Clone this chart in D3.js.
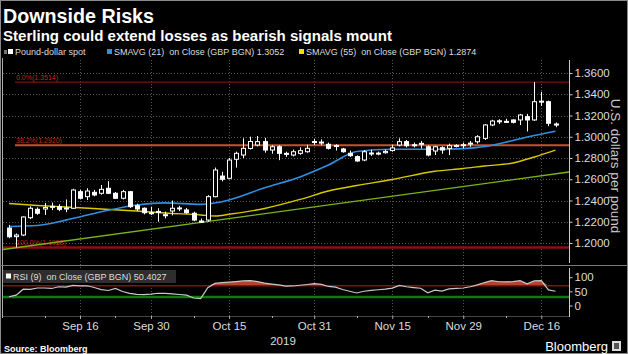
<!DOCTYPE html>
<html>
<head>
<meta charset="utf-8">
<script src="https://cdn.jsdelivr.net/npm/d3@7"></script>
<style>
  body { margin: 0; background: #000; }
  svg { display: block; }
  text { font-family: "Liberation Sans", Arial, sans-serif; }
</style>
</head>
<body>
<div id="chart"></div>
<script>
// Daily GBP/USD candles: date, open, high, low, close
var candles = [
    ["2019-09-02", 1.2141, 1.2170, 1.2045, 1.2059],
    ["2019-09-03", 1.2060, 1.2090, 1.1959, 1.2075],
    ["2019-09-04", 1.2075, 1.2250, 1.2065, 1.2245],
    ["2019-09-05", 1.2238, 1.2345, 1.2225, 1.2327],
    ["2019-09-06", 1.2317, 1.2335, 1.2265, 1.2280],
    ["2019-09-09", 1.2320, 1.2376, 1.2264, 1.2335],
    ["2019-09-10", 1.2340, 1.2380, 1.2310, 1.2345],
    ["2019-09-11", 1.2342, 1.2365, 1.2300, 1.2317],
    ["2019-09-12", 1.2320, 1.2410, 1.2290, 1.2330],
    ["2019-09-13", 1.2327, 1.2510, 1.2320, 1.2499],
    ["2019-09-16", 1.2483, 1.2500, 1.2410, 1.2421],
    ["2019-09-17", 1.2436, 1.2515, 1.2405, 1.2489],
    ["2019-09-18", 1.2477, 1.2500, 1.2440, 1.2452],
    ["2019-09-19", 1.2468, 1.2546, 1.2455, 1.2505],
    ["2019-09-20", 1.2515, 1.2582, 1.2460, 1.2468],
    ["2019-09-23", 1.2468, 1.2480, 1.2415, 1.2421],
    ["2019-09-24", 1.2421, 1.2500, 1.2410, 1.2483],
    ["2019-09-25", 1.2483, 1.2490, 1.2330, 1.2342],
    ["2019-09-26", 1.2351, 1.2370, 1.2300, 1.2320],
    ["2019-09-27", 1.2327, 1.2335, 1.2270, 1.2285],
    ["2019-09-30", 1.2285, 1.2342, 1.2264, 1.2276],
    ["2019-10-01", 1.2293, 1.2327, 1.2200, 1.2297],
    ["2019-10-02", 1.2266, 1.2295, 1.2232, 1.2262],
    ["2019-10-03", 1.2301, 1.2400, 1.2260, 1.2327],
    ["2019-10-04", 1.2325, 1.2350, 1.2300, 1.2330],
    ["2019-10-07", 1.2311, 1.2330, 1.2275, 1.2285],
    ["2019-10-08", 1.2280, 1.2295, 1.2205, 1.2216],
    ["2019-10-09", 1.2207, 1.2230, 1.2195, 1.2195],
    ["2019-10-10", 1.2216, 1.2450, 1.2200, 1.2436],
    ["2019-10-11", 1.2436, 1.2710, 1.2430, 1.2687],
    ["2019-10-14", 1.2630, 1.2670, 1.2580, 1.2600],
    ["2019-10-15", 1.2609, 1.2800, 1.2600, 1.2781],
    ["2019-10-16", 1.2788, 1.2860, 1.2710, 1.2844],
    ["2019-10-17", 1.2828, 1.2985, 1.2800, 1.2891],
    ["2019-10-18", 1.2890, 1.3000, 1.2880, 1.2955],
    ["2019-10-21", 1.2922, 1.3007, 1.2910, 1.2954],
    ["2019-10-22", 1.2954, 1.2990, 1.2850, 1.2875],
    ["2019-10-23", 1.2875, 1.2920, 1.2840, 1.2906],
    ["2019-10-24", 1.2906, 1.2920, 1.2780, 1.2844],
    ["2019-10-25", 1.2844, 1.2860, 1.2810, 1.2834],
    ["2019-10-28", 1.2828, 1.2880, 1.2815, 1.2859],
    ["2019-10-29", 1.2844, 1.2900, 1.2830, 1.2869],
    ["2019-10-30", 1.2859, 1.2925, 1.2850, 1.2891],
    ["2019-10-31", 1.2950, 1.2979, 1.2922, 1.2955],
    ["2019-11-01", 1.2950, 1.2975, 1.2920, 1.2945],
    ["2019-11-04", 1.2929, 1.2945, 1.2880, 1.2891],
    ["2019-11-05", 1.2918, 1.2930, 1.2870, 1.2912],
    ["2019-11-06", 1.2885, 1.2895, 1.2850, 1.2859],
    ["2019-11-07", 1.2844, 1.2870, 1.2810, 1.2822],
    ["2019-11-08", 1.2813, 1.2825, 1.2765, 1.2772],
    ["2019-11-11", 1.2781, 1.2875, 1.2770, 1.2859],
    ["2019-11-12", 1.2847, 1.2880, 1.2820, 1.2842],
    ["2019-11-13", 1.2840, 1.2860, 1.2825, 1.2846],
    ["2019-11-14", 1.2850, 1.2880, 1.2840, 1.2862],
    ["2019-11-15", 1.2870, 1.2925, 1.2860, 1.2895],
    ["2019-11-18", 1.2922, 1.2985, 1.2910, 1.2954],
    ["2019-11-19", 1.2954, 1.2970, 1.2900, 1.2916],
    ["2019-11-20", 1.2925, 1.2945, 1.2900, 1.2920],
    ["2019-11-21", 1.2935, 1.2960, 1.2890, 1.2938],
    ["2019-11-22", 1.2906, 1.2920, 1.2815, 1.2828],
    ["2019-11-25", 1.2866, 1.2915, 1.2828, 1.2906],
    ["2019-11-26", 1.2897, 1.2910, 1.2840, 1.2875],
    ["2019-11-27", 1.2891, 1.2935, 1.2828, 1.2916],
    ["2019-11-28", 1.2918, 1.2930, 1.2900, 1.2914],
    ["2019-11-29", 1.2920, 1.2945, 1.2890, 1.2925],
    ["2019-12-02", 1.2930, 1.2960, 1.2905, 1.2940],
    ["2019-12-03", 1.2953, 1.3015, 1.2935, 1.3000],
    ["2019-12-04", 1.2985, 1.3120, 1.2970, 1.3111],
    ["2019-12-05", 1.3111, 1.3160, 1.3100, 1.3148],
    ["2019-12-06", 1.3150, 1.3165, 1.3120, 1.3146],
    ["2019-12-09", 1.3145, 1.3170, 1.3130, 1.3142],
    ["2019-12-10", 1.3158, 1.3165, 1.3125, 1.3136],
    ["2019-12-11", 1.3158, 1.3215, 1.3110, 1.3205],
    ["2019-12-12", 1.3189, 1.3215, 1.3050, 1.3158],
    ["2019-12-13", 1.3158, 1.3514, 1.3150, 1.3330],
    ["2019-12-16", 1.3330, 1.3424, 1.3290, 1.3335],
    ["2019-12-17", 1.3330, 1.3340, 1.3100, 1.3127],
    ["2019-12-18", 1.3120, 1.3135, 1.3090, 1.3110]
];

// Moving averages
var sma21 = [
    ["2019-09-02", 1.2155], ["2019-09-06", 1.2165], ["2019-09-12", 1.2215], ["2019-09-19", 1.2294],
    ["2019-09-26", 1.2358], ["2019-10-02", 1.2378], ["2019-10-09", 1.2364], ["2019-10-11", 1.2376],
    ["2019-10-15", 1.2405], ["2019-10-22", 1.2520], ["2019-10-29", 1.2622], ["2019-11-04", 1.2734],
    ["2019-11-08", 1.2861], ["2019-11-15", 1.2882], ["2019-11-25", 1.2882], ["2019-11-29", 1.2888],
    ["2019-12-04", 1.2908], ["2019-12-10", 1.2965], ["2019-12-13", 1.3012], ["2019-12-18", 1.3052]
];
var sma55 = [
    ["2019-09-02", 1.2372], ["2019-09-06", 1.2353], ["2019-09-12", 1.2339], ["2019-09-19", 1.2320],
    ["2019-09-26", 1.2301], ["2019-10-02", 1.2282], ["2019-10-09", 1.2264], ["2019-10-11", 1.2254],
    ["2019-10-15", 1.2270], ["2019-10-22", 1.2325], ["2019-10-29", 1.2410], ["2019-11-04", 1.2489],
    ["2019-11-08", 1.2541], ["2019-11-15", 1.2598], ["2019-11-25", 1.2675], ["2019-11-29", 1.2701],
    ["2019-12-04", 1.2725], ["2019-12-10", 1.2753], ["2019-12-13", 1.2809], ["2019-12-18", 1.2874]
];
// Green trend line: value at left and right edge of the panel
var trendLine = [1.1939, 1.2668];

// Fibonacci retracement levels
var fibLabels = ["0.0%(1.3514)", "38.2%(1.2920)", "100.0%(1.1958)"];
var fibValues = [1.3514, 1.2920, 1.1958];

// RSI (9) per trading day
var rsi = [
    30.8, 36.5, 57.7, 57.3, 61.9, 61.9, 60.2, 66.2, 65.1, 70.8,
    69.0, 69.7, 63.7, 56.3, 53.1, 60.5, 49.6, 42.8, 39.6, 38.6,
    40.4, 43.2, 42.5, 41.1, 38.9, 36.5, 26.5, 24.1, 62.7, 77.9,
    80.7, 82.5, 84.6, 86.7, 87.8, 84.6, 78.9, 75.8, 72.6, 68.3,
    69.0, 71.5, 74.3, 77.2, 74.7, 67.3, 64.8, 56.6, 50.3, 44.2,
    50.3, 53.5, 55.6, 57.7, 61.6, 71.2, 66.2, 63.4, 60.9, 45.0,
    54.2, 51.0, 58.8, 60.5, 61.9, 66.2, 72.9, 81.1, 87.8, 83.9,
    83.2, 84.6, 87.8, 76.8, 86.7, 87.8, 54.9, 50.4
];
var rsiLevels = [70, 30];

// Axis ticks
var priceTicks = [1.20, 1.22, 1.24, 1.26, 1.28, 1.30, 1.32, 1.34, 1.36];
var rsiTicks = [0, 50, 100];
var tickDates = ["2019-09-16", "2019-09-30", "2019-10-15", "2019-10-31", "2019-11-15", "2019-11-29", "2019-12-16"];
var tickLabels = ["Sep 16", "Sep 30", "Oct 15", "Oct 31", "Nov 15", "Nov 29", "Dec 16"];
var minorTickDates = ["2019-09-09", "2019-09-23", "2019-10-08", "2019-10-23", "2019-11-08", "2019-11-22", "2019-12-09"];

function init() {
    var w = 628;
    var h = 354;
    var left = 3, right = 569;

    var dates = candles.map(function(d) { return d[0]; });
    function idx(date) { return dates.indexOf(date); }

    var xScale = d3.scaleLinear().domain([-0.85, 78.9]).range([left, right]);
    var yScale = d3.scaleLinear().domain([1.2, 1.36]).range([243, 73]);
    var rsiScale = d3.scaleLinear().domain([0, 100]).range([305.5, 277.2]);

    var svg = d3.select("#chart").append("svg")
        .attr("width", w)
        .attr("height", h);

    svg.append("rect").attr("width", w).attr("height", h).attr("fill", "#000");
    svg.append("rect")
        .attr("x", 0.5).attr("y", 0.5)
        .attr("width", w - 1).attr("height", h - 1)
        .attr("fill", "none").attr("stroke", "#8a8a8a");

    // Titles
    svg.append("text").attr("x", 3).attr("y", 23)
        .attr("fill", "#fff").style("font-size", "20px").style("font-weight", "bold")
        .attr("textLength", 151).attr("lengthAdjust", "spacingAndGlyphs")
        .text("Downside Risks");
    svg.append("text").attr("x", 3).attr("y", 41)
        .attr("fill", "#fff").style("font-size", "14px").style("font-weight", "bold")
        .attr("textLength", 389).attr("lengthAdjust", "spacingAndGlyphs")
        .text("Sterling could extend losses as bearish signals mount");

    // Legend
    var legend = svg.append("g").style("font-size", "9px");
    legend.append("rect").attr("x", 4).attr("y", 50).attr("width", 3).attr("height", 4).attr("fill", "#777");
    legend.append("rect").attr("x", 8).attr("y", 49).attr("width", 5).attr("height", 5).attr("fill", "#fff");
    legend.append("text").attr("x", 15).attr("y", 55).attr("fill", "#ddd").text("Pound-dollar spot");
    legend.append("rect").attr("x", 107).attr("y", 49).attr("width", 5).attr("height", 5).attr("fill", "#2f8fe0");
    legend.append("text").attr("x", 114).attr("y", 55).attr("fill", "#ddd").attr("xml:space", "preserve")
        .text("SMAVG (21)  on Close (GBP BGN) 1.3052");
    legend.append("rect").attr("x", 299).attr("y", 49).attr("width", 5).attr("height", 5).attr("fill", "#f0e000");
    legend.append("text").attr("x", 306).attr("y", 55).attr("fill", "#ddd").attr("xml:space", "preserve")
        .text("SMAVG (55)  on Close (GBP BGN) 1.2874");

    // Grid lines
    svg.append("g").selectAll("line").data(priceTicks).enter().append("line")
        .attr("x1", left).attr("x2", right)
        .attr("y1", function(d) { return Math.round(yScale(d)) + 0.5; })
        .attr("y2", function(d) { return Math.round(yScale(d)) + 0.5; })
        .attr("stroke", "#5a5a5a").attr("stroke-dasharray", "1,2");
    svg.append("g").selectAll("line").data(tickDates).enter().append("line")
        .attr("x1", function(d) { return Math.round(xScale(idx(d))) + 0.5; })
        .attr("x2", function(d) { return Math.round(xScale(idx(d))) + 0.5; })
        .attr("y1", 60).attr("y2", 316)
        .attr("stroke", "#555").attr("stroke-dasharray", "1,2");

    // Panel borders
    svg.append("line").attr("x1", 2.5).attr("x2", 2.5).attr("y1", 58).attr("y2", 318).attr("stroke", "#aaa");
    svg.append("line").attr("x1", 0).attr("x2", w).attr("y1", 265.5).attr("y2", 265.5).attr("stroke", "#777");

    // Fibonacci lines
    var fibColors = ["#7d0f0f", "#c4532b", "#8e0f0f"];
    var fibWidths = [1.2, 2, 2.5];
    var fibStart = [15, 15, 3];
    fibValues.forEach(function(v, i) {
        svg.append("line")
            .attr("x1", fibStart[i]).attr("x2", right)
            .attr("y1", yScale(v)).attr("y2", yScale(v))
            .attr("stroke", fibColors[i]).attr("stroke-width", fibWidths[i]);
        svg.append("text")
            .attr("x", 16).attr("y", yScale(v) - 2.5)
            .attr("fill", "#c0271e").style("font-size", "7px")
            .text(fibLabels[i]);
    });

    // Trend and moving average lines
    svg.append("line")
        .attr("x1", left).attr("x2", right)
        .attr("y1", yScale(trendLine[0])).attr("y2", yScale(trendLine[1]))
        .attr("stroke", "#7cb518").attr("stroke-width", 1.4);

    var line = d3.line()
        .x(function(d) { return xScale(idx(d[0])); })
        .y(function(d) { return yScale(d[1]); })
        .curve(d3.curveMonotoneX);
    svg.append("path").datum(sma55).attr("d", line)
        .attr("fill", "none").attr("stroke", "#d8c800").attr("stroke-width", 1.4);
    svg.append("path").datum(sma21).attr("d", line)
        .attr("fill", "none").attr("stroke", "#2f8fe0").attr("stroke-width", 1.6);

    // Candlesticks
    var bodyW = 5;
    var candle = svg.append("g").selectAll("g").data(candles).enter().append("g");
    candle.append("line")
        .attr("x1", function(d, i) { return Math.round(xScale(i)) + 0.5; })
        .attr("x2", function(d, i) { return Math.round(xScale(i)) + 0.5; })
        .attr("y1", function(d) { return yScale(d[2]); })
        .attr("y2", function(d) { return yScale(d[3]); })
        .attr("stroke", "#fff");
    candle.append("rect")
        .attr("x", function(d, i) { return Math.round(xScale(i)) - 2 + 0.5; })
        .attr("y", function(d) { return yScale(Math.max(d[1], d[4])); })
        .attr("width", bodyW - 1)
        .attr("height", function(d) { return Math.max(1, Math.abs(yScale(d[1]) - yScale(d[4]))); })
        .attr("fill", function(d) { return d[4] < d[1] ? "#fff" : "#000"; })
        .attr("stroke", "#fff");

    // Right price axis
    svg.append("line").attr("x1", right + 0.5).attr("x2", right + 0.5).attr("y1", 60).attr("y2", 263)
        .attr("stroke", "#ccc");
    var yAxis = d3.axisRight(yScale).tickValues(priceTicks).tickFormat(d3.format(".4f")).tickSize(3);
    var ya = svg.append("g").attr("transform", "translate(" + (right + 0.5) + ",0)").call(yAxis);
    ya.select(".domain").remove();
    ya.selectAll("line").attr("stroke", "#ccc");
    ya.selectAll("text").attr("fill", "#ddd").attr("x", 5)
        .style("font-size", "11.5px").style("font-family", "Liberation Sans, Arial, sans-serif");

    svg.append("text")
        .attr("transform", "translate(611,166) rotate(90)")
        .attr("text-anchor", "middle")
        .attr("fill", "#ccc").style("font-size", "13.5px")
        .text("U.S. dollars per pound");

    // RSI panel
    svg.append("rect").attr("x", 3).attr("y", 270).attr("width", 173).attr("height", 13).attr("fill", "#2e2e2e");
    svg.append("rect").attr("x", 6).attr("y", 273.5).attr("width", 5).attr("height", 5).attr("fill", "#fff");
    svg.append("text").attr("x", 13).attr("y", 280).attr("fill", "#ddd").style("font-size", "9px")
        .attr("xml:space", "preserve").text("RSI (9)  on Close (GBP BGN) 50.4027");

    svg.append("line").attr("x1", left).attr("x2", right)
        .attr("y1", rsiScale(rsiLevels[1])).attr("y2", rsiScale(rsiLevels[1]))
        .attr("stroke", "#0b7d0b").attr("stroke-width", 2.5);

    var rsiArea = d3.area()
        .x(function(d, i) { return xScale(i); })
        .y0(rsiScale(rsiLevels[0]))
        .y1(function(d) { return rsiScale(Math.max(d, rsiLevels[0])); });
    svg.append("path").datum(rsi).attr("d", rsiArea).attr("fill", "#b5432a");

    svg.append("line").attr("x1", left).attr("x2", right)
        .attr("y1", rsiScale(rsiLevels[0])).attr("y2", rsiScale(rsiLevels[0]))
        .attr("stroke", "#861212").attr("stroke-width", 1.5);

    var rsiLine = d3.line()
        .x(function(d, i) { return xScale(i); })
        .y(function(d) { return rsiScale(d); });
    svg.append("path").datum(rsi).attr("d", rsiLine)
        .attr("fill", "none").attr("stroke", "#c8c8c8").attr("stroke-width", 1.2);

    svg.append("line").attr("x1", right + 0.5).attr("x2", right + 0.5).attr("y1", 268).attr("y2", 317)
        .attr("stroke", "#ccc");
    var rAxis = d3.axisRight(rsiScale).tickValues(rsiTicks).tickSize(3);
    var ra = svg.append("g").attr("transform", "translate(" + (right + 0.5) + ",0)").call(rAxis);
    ra.select(".domain").remove();
    ra.selectAll("line").attr("stroke", "#ccc");
    ra.selectAll("text").attr("fill", "#ddd").attr("x", 5)
        .style("font-size", "11.5px").style("font-family", "Liberation Sans, Arial, sans-serif");

    // Bottom date axis
    svg.append("line").attr("x1", left).attr("x2", right).attr("y1", 316.5).attr("y2", 316.5).attr("stroke", "#444");
    var xAxis = d3.axisBottom(xScale)
        .tickValues(tickDates.map(idx))
        .tickFormat(function(d, i) { return tickLabels[i]; })
        .tickSize(3).tickPadding(3);
    var xa = svg.append("g").attr("transform", "translate(0,316)").call(xAxis);
    xa.select(".domain").remove();
    xa.selectAll("line").attr("stroke", "#aaa");
    xa.selectAll("text").attr("fill", "#ddd")
        .style("font-size", "11.5px").style("font-family", "Liberation Sans, Arial, sans-serif");
    svg.append("g").selectAll("line").data(minorTickDates).enter().append("line")
        .attr("x1", function(d) { return Math.round(xScale(idx(d))) + 0.5; })
        .attr("x2", function(d) { return Math.round(xScale(idx(d))) + 0.5; })
        .attr("y1", 316).attr("y2", 318).attr("stroke", "#aaa");

    svg.append("text").attr("x", 283).attr("y", 345).attr("text-anchor", "middle")
        .attr("fill", "#ddd").style("font-size", "11.5px").text("2019");

    // Footer
    svg.append("text").attr("x", 4).attr("y", 352)
        .attr("fill", "#fff").style("font-size", "9px").style("font-weight", "bold")
        .text("Source: Bloomberg");
    svg.append("text").attr("x", 608).attr("y", 351).attr("text-anchor", "end")
        .attr("fill", "#fff").style("font-size", "13px")
        .text("Bloomberg");
    svg.append("rect").attr("x", 612).attr("y", 341).attr("width", 9).attr("height", 10)
        .attr("fill", "#ddd");
    svg.append("rect").attr("x", 614).attr("y", 343).attr("width", 5).attr("height", 6)
        .attr("fill", "#555");
}

window.onload = init;
</script>
</body>
</html>
